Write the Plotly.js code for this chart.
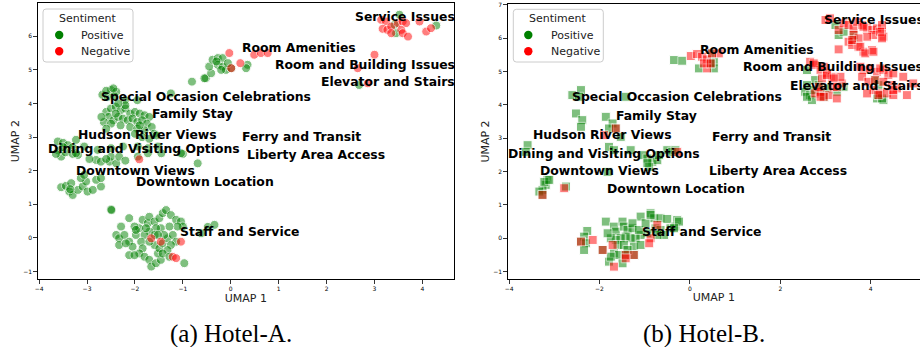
<!DOCTYPE html>
<html>
<head>
<meta charset="utf-8">
<script src="https://cdn.plot.ly/plotly-3.0.1.min.js"></script>
<style>html,body{margin:0;padding:0;background:#fff;}#chart{width:920px;height:347px;}</style>
</head>
<body>
<div id="chart"></div>
<script>
// ---------------- DATA ----------------
// Hotel-A (panel a)
const posAx = [-2.68,-2.5,-2.39,-2.57,-2.43,-2.21,-1.95,-1.25,-0.81,-2.6,-2.45,
 -2.6,-2.5,-2.4,-2.3,-2.2,-2.1,-2.0,-1.9,-1.8,-1.7,-2.55,-2.45,-2.35,-2.25,-2.15,-2.05,-1.95,-1.85,-1.75,-1.65,-2.65,-2.5,-2.3,-2.1,-1.95,-1.8,-1.6,-2.0,-1.85,-2.7,-2.4,-2.2,-2.35,-1.9,-2.6,-1.7,-1.55,
 -3.61,-3.5,-3.4,-3.3,-3.54,-3.19,-3.6,-3.45,-3.3,-3.65,-3.5,-3.23,-3.06,-3.23,
 -2.81,-2.71,-2.53,-2.39,-2.5,-2.33,-2.78,-2.5,-2.25,-1.94,-1.73,-1.52,-1.94,-1.73,-1.45,-1.0,-0.69,-1.04,-2.95,-2.6,-2.2,
 -3.54,-3.44,-3.33,-3.37,-3.3,-3.19,-3.09,-3.02,-3.13,-2.99,-2.88,-2.71,-2.81,-2.71,-3.06,-3.35,
 -2.5,-2.49,
 -2.12,-2.29,-2.39,-2.33,-2.22,-2.33,-2.12,-2.05,-2.12,-1.98,-1.91,-2.01,-1.84,-1.73,-1.7,-1.59,-1.49,-1.42,-1.35,-1.25,-1.14,-1.04,-1.0,-1.11,-1.28,-1.46,-1.56,-1.7,-1.8,-1.87,-1.84,-1.91,-1.8,-1.7,-1.66,-1.56,-1.46,-1.52,-1.59,-1.49,-1.42,-1.32,-1.39,-1.21,-1.14,-1.25,-1.32,-1.42,-1.28,-0.97,-1.7,-1.77,-1.59,-1.98,-2.19,-2.01,-1.52,
 -0.62,-0.48,-0.34,
 -0.52,-0.41,-0.45,-0.38,-0.27,-0.17,-0.27,-0.17,-0.1,0.01,0.35,0.32,-0.06,-0.2,-0.3,-0.55,
 3.52,3.42,3.45,4.29,2.68];
const posAy = [4.26,4.4,4.35,4.2,4.22,4.1,4.1,4.3,4.65,4.38,4.45,
 3.75,3.85,3.9,3.8,3.85,3.7,3.75,3.7,3.65,3.6,3.6,3.5,3.6,3.55,3.5,3.55,3.45,3.5,3.4,3.3,3.45,3.4,3.35,3.3,3.25,3.2,3.1,3.1,3.0,3.6,3.7,3.95,4.0,3.35,3.25,2.95,3.05,
 2.87,2.83,2.76,2.7,2.42,2.47,2.6,2.55,2.5,2.5,2.7,2.52,2.72,2.92,
 2.32,2.27,2.27,2.22,2.42,2.42,2.62,2.67,2.72,2.72,2.67,2.72,2.42,2.52,2.52,2.5,2.22,2.52,2.35,2.35,2.3,
 1.51,1.55,1.63,1.38,1.28,1.43,1.53,1.68,1.78,1.38,1.43,1.53,1.73,1.78,1.88,1.45,
 0.85,0.83,
 0.59,0.34,0.09,-0.01,0.09,-0.21,-0.11,-0.26,-0.51,0.09,0.29,0.34,0.54,0.44,0.63,0.49,0.59,0.74,0.83,0.68,0.54,0.49,0.34,0.34,0.34,0.29,0.29,0.19,0.09,-0.11,-0.31,-0.46,-0.56,-0.65,-0.85,-0.75,-0.65,-0.46,-0.21,-0.31,-0.16,-0.01,0.09,0.09,-0.11,-0.21,-0.36,-0.46,-0.56,-0.75,-0.11,0.29,0.09,0.24,-0.16,-0.51,0.09,
 0.14,0.33,0.39,
 4.75,4.9,5.1,5.3,5.35,5.35,5.15,5.1,5.0,5.05,5.15,5.05,5.2,5.0,5.25,4.75,
 6.64,6.34,6.09,6.32,4.55];
const negAx = [-1.91,
 -1.66,-1.04,-1.21,-1.14,-1.46,
 -0.03,0.01,0.2,0.49,0.63,0.77,
 3.14,3.24,3.17,3.27,3.35,3.49,3.59,3.66,3.56,3.35,3.59,3.7,3.94,4.08,4.18,
 3.0,2.65,2.86];
const negAy = [2.34,
 -0.01,-0.11,-0.56,-0.6,-0.11,
 5.5,5.05,5.2,5.45,5.5,5.5,
 6.49,6.44,6.22,6.19,6.29,6.39,6.44,6.39,6.19,6.09,6.09,5.99,6.44,6.14,6.24,
 5.45,5.05,4.6];

// Hotel-B (panel b)
const posBx = [-2.6,-2.41,-2.45,-1.42,-2.52,-2.38,-2.41,-1.86,-1.71,-1.64,-1.53,-1.79,-3.59,-3.63,-1.79,-1.68,-1.31,-1.05,-0.94,-0.83,-0.72,-0.9,-0.5,-0.39,-0.68,-1.82,-3.15,-3.19,-3.26,-3.33,-3.26,-2.74,-0.32,-0.94,-3.22,-3.11,
 -2.27,-2.34,-2.41,-2.3,-2.34,-1.93,-1.86,-1.68,-1.64,-1.49,-1.46,-1.38,-1.27,-1.09,-0.87,-0.79,-0.65,-0.5,-0.28,-0.32,-0.43,-0.76,-0.65,-0.57,-0.72,-0.94,-1.09,-1.2,-1.31,-1.42,-1.53,-1.64,-1.75,-1.6,-1.46,-1.24,-1.09,-1.68,-1.57,-1.42,-1.24,-1.79,-1.49,-1.75,-1.38,-1.82,-1.27,-1.13,-0.98,-0.87,-0.24,-0.35,
 -0.35,-0.17,0.2,0.49,0.53,0.53,0.46,
 3.22,3.29,3.62,3.62,3.4,
 2.59,2.77,2.59,2.55,2.66,2.89,3.03,3.25,2.96,2.7,2.59,2.74,2.85,3.4,
 4.1,4.17,4.14,4.28,4.17,4.25];
const posBy = [4.29,4.44,4.24,4.24,3.74,3.54,3.34,3.64,3.44,3.29,3.04,3.29,2.79,2.59,2.74,2.64,2.64,2.49,2.39,2.29,2.34,2.14,2.64,2.59,2.49,1.99,1.75,1.6,1.45,1.4,1.3,1.55,2.64,2.25,1.69,1.75,
 0.22,0.05,-0.1,-0.15,-0.35,-0.35,0.5,0.35,0.2,0.5,0.35,0.25,0.3,0.65,0.75,0.6,0.6,0.58,0.55,0.35,0.3,0.3,0.25,0.1,0.1,0.15,0.1,0.0,0.0,0.05,0.0,-0.05,0.0,-0.2,-0.2,-0.25,-0.2,-0.45,-0.5,-0.5,-0.5,-0.7,-0.75,-0.55,-0.35,0.15,0.45,0.25,0.45,0.7,0.5,0.3,
 5.34,5.32,5.09,5.54,5.29,5.09,5.24,
 6.39,6.09,6.09,5.94,6.19,
 5.04,4.74,4.59,4.39,4.29,4.39,4.49,4.39,4.24,4.14,4.24,4.44,4.59,4.54,
 4.74,4.59,4.19,4.14,4.29,4.19];
const negBx = [-1.64,-1.9,-0.28,-3.26,-2.78,
 -2.41,-2.15,-1.93,-0.72,-0.87,-1.71,-0.9,-1.42,-1.24,-1.68,-1.42,
 0.02,0.16,0.27,0.38,0.38,0.64,0.31,0.46,0.49,
 3.0,3.1,3.29,3.4,3.51,3.62,3.7,3.81,3.92,4.03,4.14,4.25,4.28,4.06,3.92,3.62,3.73,3.51,3.59,3.73,3.84,4.03,3.29,4.25,3.84,4.21,4.25,3.59,3.77,3.88,4.06,
 2.66,2.77,2.89,3.03,3.14,2.92,2.77,2.89,3.07,3.18,3.36,3.33,2.85,2.96,3.25,2.89,3.03,3.18,3.25,2.96,2.74,
 3.84,3.99,4.14,4.28,4.39,3.81,3.95,4.1,4.28,4.47,4.58,4.06,4.21,4.36,4.5,3.92,4.17,3.77,4.21,4.5,4.72,4.94,4.8,4.5];
const negBy = [3.29,3.09,2.59,1.3,1.5,
 -0.1,-0.05,-0.35,0.4,0.0,-0.2,-0.15,-0.5,-0.5,-0.85,-0.6,
 5.46,5.52,5.44,5.36,5.09,5.54,5.24,5.24,5.54,
 6.54,6.59,6.24,6.44,6.39,6.29,6.49,6.39,6.29,6.24,6.29,6.19,6.04,6.09,6.04,6.09,5.99,5.89,5.79,5.74,5.59,5.64,5.66,6.39,6.34,6.19,5.99,5.94,5.74,5.54,5.59,
 5.29,5.19,5.04,4.94,4.84,4.79,4.34,4.39,4.29,4.54,4.64,4.84,4.54,4.24,4.19,4.24,4.89,4.79,4.54,5.14,5.24,
 5.04,5.09,4.99,5.04,4.89,4.84,4.69,4.74,4.69,4.59,4.49,4.44,4.34,4.34,4.29,4.34,4.29,5.14,5.09,4.94,4.84,4.64,4.29,4.44];

// Topic labels (cluster centres)
const topics = ["Service Issues","Room Amenities","Room and Building Issues","Elevator and Stairs",
 "Special Occasion Celebrations","Family Stay","Hudson River Views","Ferry and Transit",
 "Dining and Visiting Options","Liberty Area Access","Downtown Views","Downtown Location","Staff and Service"];
const topicAx = [3.63,1.42,2.80,3.28,-0.52,-0.79,-1.74,1.47,-1.81,1.77,-1.98,-0.54,0.18];
const topicAy = [6.59,5.66,5.15,4.65,4.21,3.69,3.07,3.01,2.65,2.48,2.02,1.68,0.19];
const topicBx = [4.08,1.49,3.17,3.69,-0.28,-0.74,-1.94,1.81,-1.89,1.94,-2.01,-0.30,0.26];
const topicBy = [6.57,5.66,5.14,4.59,4.24,3.69,3.12,3.04,2.54,2.04,2.04,1.50,0.20];

const sentiments = ["Positive","Negative"];
const captions = ["(a) Hotel-A.","(b) Hotel-B."];
const ticksAx = [-4,-3,-2,-1,0,1,2,3,4];
const ticksAy = [-1,0,1,2,3,4,5,6];
const ticksBx = [-4,-2,0,2,4];
const ticksBy = [-1,0,1,2,3,4,5,6,7];

// ---------------- DRAWING ----------------
const W = 920, H = 347;
const px = v => v / W;
const py = v => 1 - v / H;
const GREEN = '#008000', RED = '#ff0000';

function pts(x, y, color, symbol, xa, ya) {
  return {type:'scatter', mode:'markers', x:x, y:y, xaxis:xa, yaxis:ya, showlegend:false, hoverinfo:'skip',
    marker:{symbol:symbol, size:9, color:color, opacity:0.5, line:{color:'#ffffff', width:1}}};
}
const traces = [
  pts(posAx, posAy, GREEN, 'circle', 'x', 'y'),
  pts(negAx, negAy, RED, 'circle', 'x', 'y'),
  pts(posBx, posBy, GREEN, 'square', 'x2', 'y2'),
  pts(negBx, negBy, RED, 'square', 'x2', 'y2')
];

const labelFont = {family:'DejaVu Sans', size:12.4, color:'#000', weight:700};
const annotations = [];
topics.forEach((t, i) => {
  annotations.push({xref:'x', yref:'y', x:topicAx[i], y:topicAy[i], text:t, showarrow:false, xanchor:'center', yanchor:'middle', font:labelFont});
  annotations.push({xref:'x2', yref:'y2', x:topicBx[i], y:topicBy[i], text:t, showarrow:false, xanchor:'center', yanchor:'middle', font:labelFont});
});

const shapes = [];
function legend(left, right, top, bottom, mx, tx) {
  const r = 3;
  const path = `M ${px(left+r)} ${py(top)} L ${px(right-r)} ${py(top)} Q ${px(right)} ${py(top)} ${px(right)} ${py(top+r)} ` +
    `L ${px(right)} ${py(bottom-r)} Q ${px(right)} ${py(bottom)} ${px(right-r)} ${py(bottom)} ` +
    `L ${px(left+r)} ${py(bottom)} Q ${px(left)} ${py(bottom)} ${px(left)} ${py(bottom-r)} ` +
    `L ${px(left)} ${py(top+r)} Q ${px(left)} ${py(top)} ${px(left+r)} ${py(top)} Z`;
  shapes.push({type:'path', xref:'paper', yref:'paper', path:path, fillcolor:'rgba(255,255,255,0.8)', line:{color:'#cccccc', width:1}});
  const rows = [35, 51.2];
  [GREEN, RED].forEach((c, i) => {
    const cy = rows[i], rr = 4.2;
    shapes.push({type:'circle', xref:'paper', yref:'paper', x0:px(mx-rr), x1:px(mx+rr), y0:py(cy+rr), y1:py(cy-rr), fillcolor:c, line:{color:c, width:0}});
    annotations.push({xref:'paper', yref:'paper', x:px(tx), y:py(cy), text:sentiments[i], showarrow:false, xanchor:'left', yanchor:'middle', font:{family:'DejaVu Sans', size:11, color:'#222'}});
  });
  annotations.push({xref:'paper', yref:'paper', x:px((left+right)/2), y:py(18.3), text:'Sentiment', showarrow:false, xanchor:'center', yanchor:'middle', font:{family:'DejaVu Sans', size:11, color:'#222'}});
}
legend(43, 133, 9, 62, 59.2, 79.3);
legend(513.3, 603.3, 9.3, 62, 528.3, 549.3);

annotations.push({xref:'paper', yref:'paper', x:px(231), y:py(334), text:captions[0], showarrow:false, xanchor:'center', yanchor:'middle', font:{family:'Liberation Serif', size:25, color:'#000'}});
annotations.push({xref:'paper', yref:'paper', x:px(704), y:py(334), text:captions[1], showarrow:false, xanchor:'center', yanchor:'middle', font:{family:'Liberation Serif', size:25, color:'#000'}});

const axBase = {showgrid:false, zeroline:false, showline:true, linecolor:'#000', linewidth:1,
  ticks:'outside', ticklen:3.5, tickwidth:0.8, tickcolor:'#000', tickfont:{family:'DejaVu Sans', size:6, color:'#000'}, automargin:false};

const layout = {
  width:W, height:H, margin:{l:0, r:0, t:0, b:0}, paper_bgcolor:'#fff', plot_bgcolor:'#fff',
  font:{family:'DejaVu Sans'},
  showlegend:false,
  xaxis:Object.assign({}, axBase, {domain:[px(37.7), px(454)], range:[-4.03, 4.66], tickvals:ticksAx, mirror:true, anchor:'y',
    title:{text:'UMAP 1', font:{size:11, color:'#222'}, standoff:2}}),
  yaxis:Object.assign({}, axBase, {domain:[py(279), py(3.3)], range:[-1.22, 6.98], tickvals:ticksAy, mirror:true, anchor:'x',
    title:{text:'UMAP 2', font:{size:11, color:'#222'}, standoff:1}}),
  xaxis2:Object.assign({}, axBase, {domain:[px(507.7), 1], range:[-4.03, 5.09], tickvals:ticksBx, mirror:true, anchor:'y2',
    title:{text:'UMAP 1', font:{size:11, color:'#222'}, standoff:2}}),
  yaxis2:Object.assign({}, axBase, {domain:[py(279), py(4)], range:[-1.22, 7.02], tickvals:ticksBy, mirror:false, anchor:'x2',
    title:{text:'UMAP 2', font:{size:11, color:'#222'}, standoff:1}}),
  annotations:annotations,
  shapes:shapes
};

Plotly.newPlot('chart', traces, layout, {staticPlot:true, displayModeBar:false});
</script>
</body>
</html>
